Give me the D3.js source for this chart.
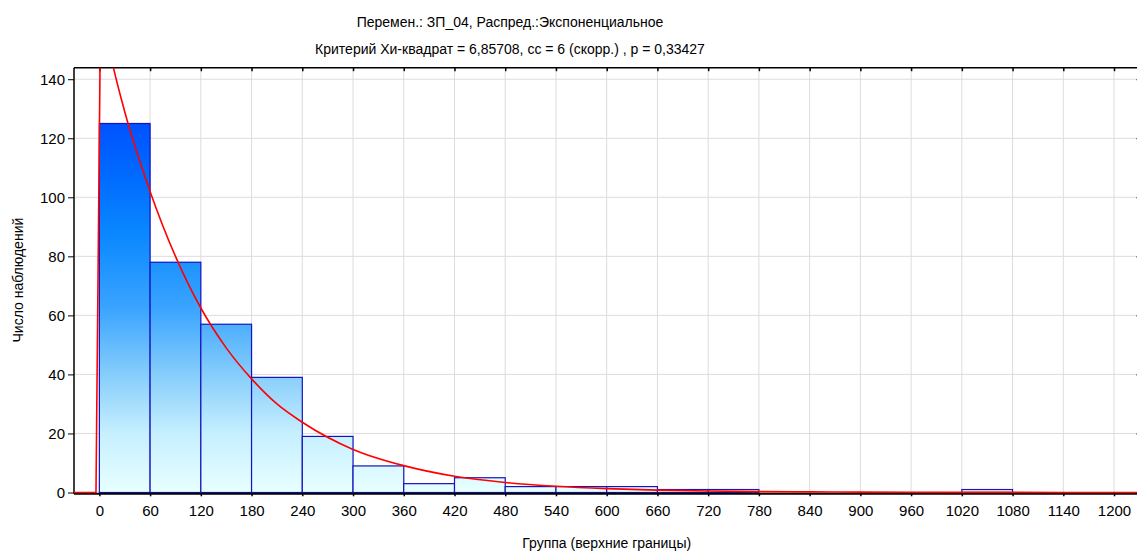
<!DOCTYPE html>
<html><head><meta charset="utf-8">
<script src="https://cdn.jsdelivr.net/npm/d3@7"></script>
<style>
html,body{margin:0;padding:0;background:#fff;}
svg{display:block;font-family:"Liberation Sans",Arial,Helvetica,sans-serif;}
</style></head>
<body>
<svg id="chart" width="1137" height="551"></svg>
<script>
// ---- data ----
const binStarts = [0,60,120,180,240,300,360,420,480,540,600,660,720,780,840,900,960,1020,1080,1140];
const binCounts = [125,78,57,39,19,9,3,5,2,2,2,1,1,0,0,0,0,1,0,0];
const binWidth = 60;
const xTickValues = [0,60,120,180,240,300,360,420,480,540,600,660,720,780,840,900,960,1020,1080,1140,1200];
const yTickValues = [0,20,40,60,80,100,120,140];
// fitted exponential curve (rise part, then decay part)
const riseX = [-30,-4,1.5];
const riseY = [0,0,166];
const decayX = [1.5,15,30,60,90,120,150,180,210,240,300,360,420,480,540,600,660,720,780,840,900,960,1020,1080,1140,1200,1230];
const decayY = [166,146,129,102,80,62.5,49,38.5,30,23.8,14.6,9.1,5.5,3.4,2.1,1.3,0.8,0.5,0.3,0.2,0.12,0.07,0.05,0.03,0.02,0.01,0.01];
const title1 = "Перемен.: ЗП_04, Распред.:Экспоненциальное";
const title2 = "Критерий Хи-квадрат = 6,85708, сс = 6 (скорр.) , p = 0,33427";
const xLabel = "Группа (верхние границы)";
const yLabel = "Число наблюдений";

// ---- layout ----
const L = 74, R = 1139.4, T = 67.7, B = 492.5;
const svg = d3.select("#chart");
const x = d3.scaleLinear().domain([-30,1230]).range([L,R]);
const y = d3.scaleLinear().domain([0,143.9]).range([B,T]);

const defs = svg.append("defs");
defs.append("clipPath").attr("id","clip").append("rect")
  .attr("x",L).attr("y",T).attr("width",R-L).attr("height",B-T+1);
const grad = defs.append("linearGradient").attr("id","barGrad")
  .attr("gradientUnits","userSpaceOnUse")
  .attr("x1",0).attr("x2",0).attr("y1",y(0)).attr("y2",y(125));
[[0,"#e8ffff"],[0.16,"#c6efff"],[0.32,"#86cdfb"],[0.5,"#3aa4ff"],[0.7,"#0a88ff"],[0.85,"#006cff"],[1,"#0052ff"]]
  .forEach(([o,c])=>grad.append("stop").attr("offset",o).attr("stop-color",c));

// gridlines
const grid = svg.append("g");
grid.selectAll("line.vx").data(xTickValues).join("line")
  .attr("x1",d=>x(d)).attr("x2",d=>x(d)).attr("y1",T).attr("y2",B)
  .attr("stroke","#dcdcdc").attr("stroke-width",1);
grid.selectAll("line.hy").data(yTickValues.filter(d=>d>0)).join("line")
  .attr("x1",L).attr("x2",R).attr("y1",d=>y(d)).attr("y2",d=>y(d))
  .attr("stroke","#dcdcdc").attr("stroke-width",1);

// bars
const bars = binStarts.map((s,i)=>({s, v:binCounts[i]})).filter(d=>d.v>0);
svg.append("g").selectAll("rect").data(bars).join("rect")
  .attr("x",d=>x(d.s)).attr("width",d=>x(d.s+binWidth)-x(d.s))
  .attr("y",d=>y(d.v)).attr("height",d=>y(0)-y(d.v))
  .attr("fill","url(#barGrad)").attr("stroke","#1414c0").attr("stroke-width",1.2);

// axes
const xAxisB = d3.axisBottom(x).tickValues(xTickValues).tickSize(3).tickPadding(9).tickFormat(d3.format("d"));
const gxb = svg.append("g").attr("transform",`translate(0,${B+0.8})`).call(xAxisB);
gxb.select(".domain").remove();
gxb.selectAll(".tick line").attr("stroke","#000").attr("stroke-width",1.5);
gxb.selectAll("text").attr("font-size",15).attr("fill","#000").attr("font-family","Liberation Sans, Arial, sans-serif");

const xAxisT = d3.axisBottom(x).tickValues(xTickValues).tickSize(3.5).tickFormat("");
const gxt = svg.append("g").attr("transform",`translate(0,${T})`).call(xAxisT);
gxt.select(".domain").remove();
gxt.selectAll(".tick line").attr("stroke","#000").attr("stroke-width",1.5);

const yAxisL = d3.axisLeft(y).tickValues(yTickValues).tickSize(6).tickPadding(3).tickFormat(d3.format("d"));
const gyl = svg.append("g").attr("transform",`translate(${L},0)`).call(yAxisL);
gyl.select(".domain").remove();
gyl.selectAll(".tick line").attr("stroke","#000").attr("stroke-width",1);
gyl.selectAll("text").attr("font-size",15).attr("fill","#000").attr("font-family","Liberation Sans, Arial, sans-serif");

const yAxisR = d3.axisLeft(y).tickValues(yTickValues.filter(d=>d>0)).tickSize(3).tickFormat("");
const gyr = svg.append("g").attr("transform",`translate(${R},0)`).call(yAxisR);
gyr.select(".domain").remove();
gyr.selectAll(".tick line").attr("stroke","#000").attr("stroke-width",1);

// frame lines
svg.append("line").attr("x1",L).attr("x2",R).attr("y1",T).attr("y2",T).attr("stroke","#000").attr("stroke-width",1.5);
svg.append("line").attr("x1",L).attr("x2",L).attr("y1",T).attr("y2",B+1.5).attr("stroke","#000").attr("stroke-width",1.5);
svg.append("line").attr("x1",L).attr("x2",R).attr("y1",B+1.2).attr("y2",B+1.2).attr("stroke","#000").attr("stroke-width",2);

// fitted curve (drawn on top)
const cg = svg.append("g").attr("clip-path","url(#clip)");
const riseLine = d3.line().x((d,i)=>x(riseX[i])).y((d,i)=>y(riseY[i]));
cg.append("path").datum(riseX).attr("d",riseLine)
  .attr("fill","none").attr("stroke","#ff0000").attr("stroke-width",1.6);
const decayLine = d3.line().x((d,i)=>x(decayX[i])).y((d,i)=>y(decayY[i])).curve(d3.curveMonotoneX);
cg.append("path").datum(decayX).attr("d",decayLine)
  .attr("fill","none").attr("stroke","#ff0000").attr("stroke-width",1.6);

// texts
svg.append("text").attr("x",510).attr("y",27).attr("text-anchor","middle").attr("font-size",14).text(title1);
svg.append("text").attr("x",510).attr("y",54).attr("text-anchor","middle").attr("font-size",14).text(title2);
svg.append("text").attr("x",(L+R)/2).attr("y",548).attr("text-anchor","middle").attr("font-size",14).text(xLabel);
svg.append("text").attr("transform",`translate(23,${(T+B)/2}) rotate(-90)`).attr("text-anchor","middle").attr("font-size",14).text(yLabel);
</script>
</body></html>
